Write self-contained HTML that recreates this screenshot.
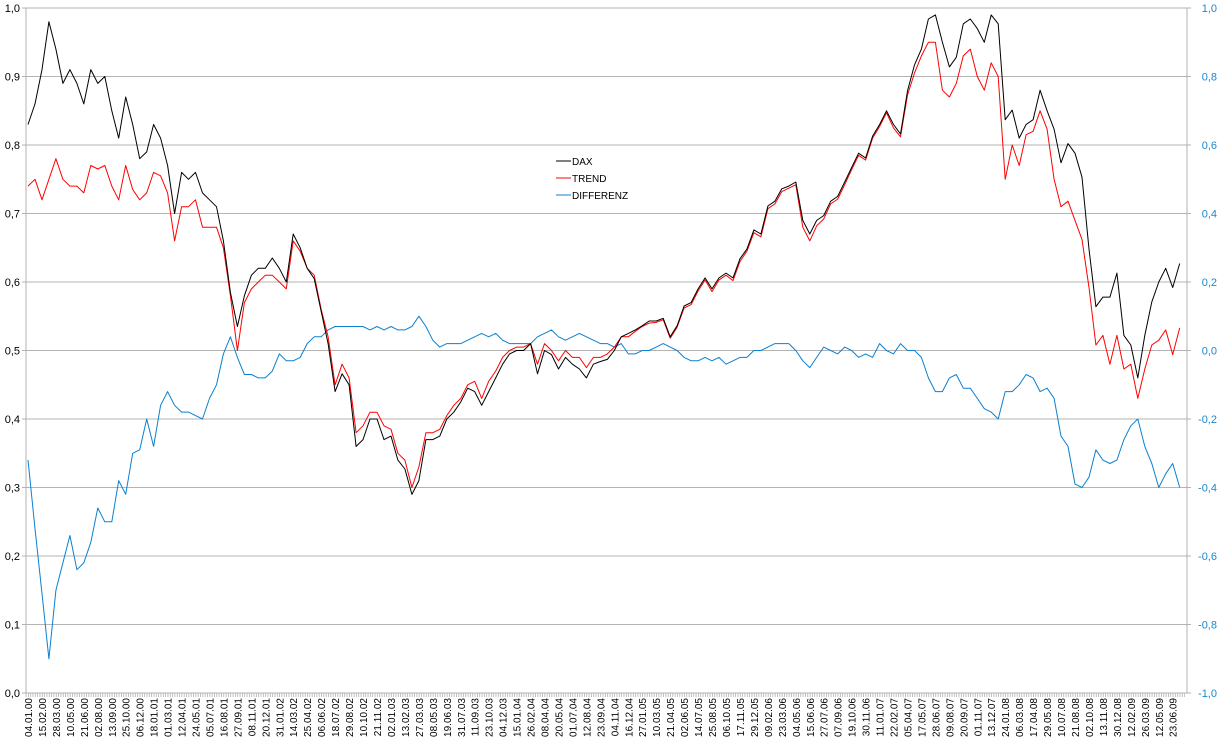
<!DOCTYPE html>
<html><head><meta charset="utf-8"><style>
html,body{margin:0;padding:0;background:#fff;width:1219px;height:752px;overflow:hidden}
svg{display:block;font-family:"Liberation Sans",sans-serif}
</style></head><body>
<svg id="chart" width="1219" height="752" viewBox="0 0 1219 752" xmlns="http://www.w3.org/2000/svg">
<g id="grid"></g>
<g id="yleft"></g>
<g id="yright"></g>
<g id="xaxis"></g>
<g id="series"></g>
<g font-size="10">
  <g><line x1="556" y1="161" x2="571" y2="161" stroke="#000"/><text x="572" y="165">DAX</text></g>
  <g><line x1="556" y1="178" x2="571" y2="178" stroke="#f00"/><text x="572" y="182">TREND</text></g>
  <g><line x1="556" y1="195" x2="571" y2="195" stroke="#0a80d0"/><text x="572" y="199">DIFFERENZ</text></g>
</g>
</svg>
<script>
const dateLabels = ["04.01.00","15.02.00","28.03.00","10.05.00","21.06.00","02.08.00","13.09.00","25.10.00","06.12.00","18.01.01","01.03.01","12.04.01","24.05.01","05.07.01","16.08.01","27.09.01","08.11.01","20.12.01","31.01.02","14.03.02","25.04.02","06.06.02","18.07.02","29.08.02","10.10.02","21.11.02","02.01.03","13.02.03","27.03.03","08.05.03","19.06.03","31.07.03","11.09.03","23.10.03","04.12.03","15.01.04","26.02.04","08.04.04","20.05.04","01.07.04","12.08.04","23.09.04","04.11.04","16.12.04","27.01.05","10.03.05","21.04.05","02.06.05","14.07.05","25.08.05","06.10.05","17.11.05","29.12.05","09.02.06","23.03.06","04.05.06","15.06.06","27.07.06","07.09.06","19.10.06","30.11.06","11.01.07","22.02.07","05.04.07","17.05.07","28.06.07","09.08.07","20.09.07","01.11.07","13.12.07","24.01.08","06.03.08","17.04.08","29.05.08","10.07.08","21.08.08","02.10.08","13.11.08","30.12.08","12.02.09","26.03.09","12.05.09","23.06.09"];
const leftTicks = ["0,0","0,1","0,2","0,3","0,4","0,5","0,6","0,7","0,8","0,9","1,0"];
const rightTicks = ["-1,0","-0,8","-0,6","-0,4","-0,2","0,0","0,2","0,4","0,6","0,8","1,0"];
const dax = [0.83,0.86,0.91,0.98,0.94,0.89,0.91,0.89,0.86,0.91,0.89,0.90,0.85,0.81,0.87,0.83,0.78,0.79,0.83,0.81,0.77,0.70,0.76,0.75,0.76,0.73,0.72,0.71,0.66,0.585,0.535,0.58,0.61,0.62,0.62,0.635,0.62,0.60,0.67,0.65,0.62,0.605,0.557,0.51,0.44,0.466,0.45,0.36,0.37,0.40,0.40,0.37,0.375,0.34,0.327,0.29,0.31,0.37,0.37,0.375,0.40,0.41,0.425,0.445,0.44,0.42,0.44,0.46,0.48,0.495,0.50,0.50,0.51,0.466,0.50,0.494,0.473,0.49,0.48,0.473,0.46,0.48,0.484,0.487,0.50,0.52,0.525,0.53,0.536,0.543,0.543,0.547,0.52,0.536,0.565,0.57,0.59,0.606,0.59,0.606,0.613,0.606,0.634,0.648,0.676,0.67,0.711,0.718,0.736,0.74,0.746,0.69,0.67,0.69,0.697,0.718,0.725,0.746,0.767,0.788,0.781,0.813,0.83,0.85,0.83,0.816,0.879,0.917,0.94,0.984,0.99,0.95,0.914,0.928,0.977,0.984,0.97,0.95,0.99,0.977,0.837,0.851,0.81,0.83,0.837,0.88,0.85,0.823,0.774,0.802,0.788,0.753,0.648,0.564,0.578,0.578,0.613,0.522,0.508,0.46,0.522,0.571,0.60,0.62,0.592,0.627];
const trend = [0.74,0.75,0.72,0.75,0.78,0.75,0.74,0.74,0.73,0.77,0.765,0.77,0.74,0.72,0.77,0.735,0.72,0.73,0.76,0.755,0.73,0.66,0.71,0.71,0.72,0.68,0.68,0.68,0.65,0.58,0.50,0.57,0.59,0.60,0.61,0.61,0.60,0.59,0.66,0.645,0.62,0.61,0.56,0.52,0.45,0.48,0.46,0.38,0.39,0.41,0.41,0.39,0.385,0.35,0.34,0.30,0.33,0.38,0.38,0.385,0.405,0.42,0.43,0.45,0.455,0.43,0.455,0.47,0.49,0.50,0.505,0.505,0.51,0.48,0.51,0.50,0.485,0.50,0.49,0.49,0.475,0.49,0.49,0.495,0.505,0.52,0.52,0.528,0.535,0.54,0.541,0.545,0.518,0.534,0.562,0.567,0.587,0.603,0.586,0.603,0.61,0.602,0.63,0.645,0.672,0.666,0.707,0.714,0.732,0.737,0.742,0.68,0.66,0.682,0.692,0.714,0.721,0.742,0.764,0.785,0.778,0.81,0.827,0.847,0.825,0.812,0.873,0.905,0.93,0.95,0.95,0.88,0.87,0.89,0.93,0.94,0.90,0.88,0.92,0.90,0.75,0.80,0.77,0.815,0.82,0.85,0.823,0.75,0.71,0.718,0.69,0.662,0.592,0.508,0.522,0.48,0.522,0.473,0.48,0.43,0.473,0.508,0.515,0.53,0.494,0.533];
const diff = [-0.32,-0.52,-0.71,-0.90,-0.70,-0.62,-0.54,-0.64,-0.62,-0.56,-0.46,-0.50,-0.50,-0.38,-0.42,-0.30,-0.29,-0.20,-0.28,-0.16,-0.12,-0.16,-0.18,-0.18,-0.19,-0.20,-0.14,-0.10,-0.01,0.04,-0.02,-0.07,-0.07,-0.08,-0.08,-0.06,-0.01,-0.03,-0.03,-0.02,0.02,0.04,0.04,0.06,0.07,0.07,0.07,0.07,0.07,0.06,0.07,0.06,0.07,0.06,0.06,0.07,0.10,0.07,0.03,0.01,0.02,0.02,0.02,0.03,0.04,0.05,0.04,0.05,0.03,0.02,0.02,0.02,0.02,0.04,0.05,0.06,0.04,0.03,0.04,0.05,0.04,0.03,0.02,0.02,0.01,0.02,-0.01,-0.01,0.00,0.00,0.01,0.02,0.01,0.00,-0.02,-0.03,-0.03,-0.02,-0.03,-0.02,-0.04,-0.03,-0.02,-0.02,0.00,0.00,0.01,0.02,0.02,0.02,0.00,-0.03,-0.05,-0.02,0.01,0.00,-0.01,0.01,0.00,-0.02,-0.01,-0.02,0.02,0.00,-0.01,0.02,0.00,0.00,-0.02,-0.08,-0.12,-0.12,-0.08,-0.07,-0.11,-0.11,-0.14,-0.17,-0.18,-0.20,-0.12,-0.12,-0.10,-0.07,-0.08,-0.12,-0.11,-0.14,-0.25,-0.28,-0.39,-0.40,-0.37,-0.29,-0.32,-0.33,-0.32,-0.26,-0.22,-0.20,-0.28,-0.33,-0.40,-0.36,-0.33,-0.40];

const NS = "http://www.w3.org/2000/svg";
const X0 = 28, LABEL_STEP = 13.96, PLOT_L = 26, PLOT_R = 1187, Y_TOP = 8, Y_BOT = 693;
function xLabel(i){ return X0 + i*LABEL_STEP; }
function xData(k){ return X0 + k*LABEL_STEP/2; }
function yLeft(v){ return Y_BOT - v*(Y_BOT-Y_TOP); }
function yRight(v){ return yLeft((v+1)/2); }
function mk(tag, attrs, parent){ const e=document.createElementNS(NS,tag); for(const a in attrs) e.setAttribute(a,attrs[a]); parent.appendChild(e); return e; }

const grid = document.getElementById('grid');
const yl = document.getElementById('yleft');
const yr = document.getElementById('yright');
const xa = document.getElementById('xaxis');
const ser = document.getElementById('series');

leftTicks.forEach((t,i)=>{
  const y = yLeft(i/10);
  const g = mk('line',{x1:PLOT_L,x2:PLOT_R,y1:y,y2:y,stroke:'#b3b3b3','stroke-width':1},grid);
  
  
  const tx = mk('text',{x:20,y:y+4,'text-anchor':'end','font-size':11,fill:'#000'},yl);
  tx.textContent = t;
  
  
  mk('line',{x1:PLOT_L-4,x2:PLOT_L,y1:y,y2:y,stroke:'#b3b3b3'},yl);
});
rightTicks.forEach((t,i)=>{
  const y = yRight(-1 + i*0.2);
  const tx = mk('text',{x:1217,y:y+4,'text-anchor':'end','font-size':11,fill:'#1a88d0'},yr);
  tx.textContent = t;
  
  
  mk('line',{x1:PLOT_R,x2:PLOT_R+4,y1:y,y2:y,stroke:'#b3b3b3'},yr);
});
mk('line',{x1:PLOT_L,x2:PLOT_L,y1:Y_TOP,y2:Y_BOT,stroke:'#b3b3b3'},yl);
mk('line',{x1:PLOT_R,x2:PLOT_R,y1:Y_TOP,y2:Y_BOT,stroke:'#b3b3b3'},yr);
for(let x=PLOT_L; x<=PLOT_R; x+=LABEL_STEP/6){
  mk('line',{x1:x,x2:x,y1:Y_BOT,y2:Y_BOT+4,stroke:'#b3b3b3','stroke-width':0.8},xa);
}
dateLabels.forEach((d,i)=>{
  const x = xLabel(i)+4;
  const tx = mk('text',{x:x,y:698,'text-anchor':'end','font-size':10,fill:'#000',transform:`rotate(-90 ${x} 698)`},xa);
  tx.textContent = d;
  
  
});

function line(arr, yf, color, name){
  const pts = arr.map((v,k)=>xData(k).toFixed(1)+','+yf(v).toFixed(1)).join(' ');
  const p = mk('polyline',{points:pts,fill:'none',stroke:color,'stroke-width':1,'stroke-linejoin':'round'},ser);
  
  
}
line(diff, yRight, '#0a80d0', 'differenz-line');
line(trend, yLeft, '#ff0000', 'trend-line');
line(dax, yLeft, '#000000', 'dax-line');
</script>
</body></html>
